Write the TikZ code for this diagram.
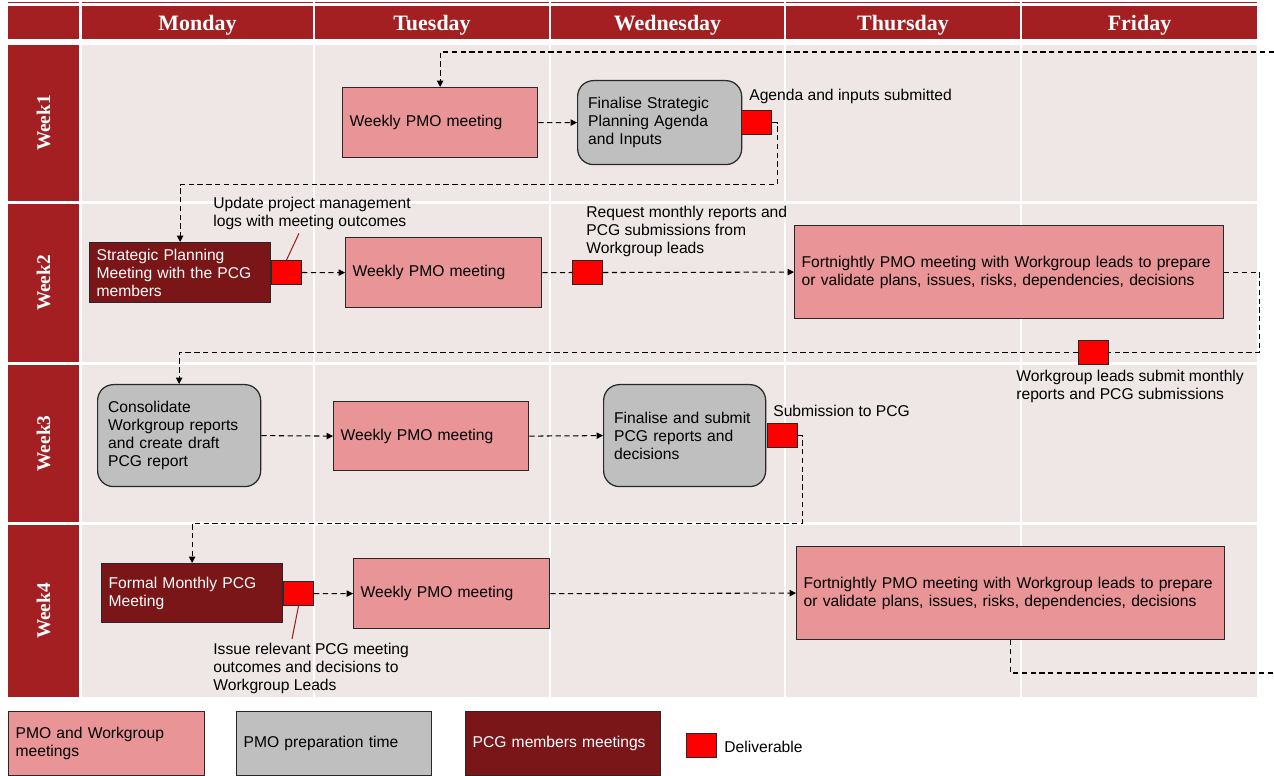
\documentclass[tikz,border=0pt]{standalone}
\usepackage{fontspec}
\setmainfont{Liberation Sans}
\newfontfamily\serifhead{Liberation Serif}
\usepackage{tikz}
\usetikzlibrary{arrows.meta}
\definecolor{hdred}{RGB}{163,31,34}
\definecolor{pcgred}{RGB}{122,22,24}
\definecolor{pmopink}{RGB}{233,148,150}
\definecolor{prepgray}{RGB}{191,191,191}
\definecolor{cellbg}{RGB}{238,231,230}
\definecolor{edgegray}{RGB}{40,40,40}
\tikzset{
  box/.style={draw=edgegray, line width=0.7pt, anchor=north west, align=left, inner xsep=4pt, inner ysep=2pt},
  pmo/.style={box, fill=pmopink},
  prep/.style={box, fill=prepgray, rounded corners=9pt, inner xsep=6pt},
  pcg/.style={box, fill=pcgred, text=white},
  deliv/.style={draw=edgegray, line width=0.6pt, fill=red, anchor=north west, inner sep=0pt, minimum width=0.6cm, minimum height=0.48cm},
  note/.style={anchor=north west, align=left, inner sep=0pt},
  flow/.style={draw=black, line width=0.6pt, dash pattern=on 3pt off 2pt, -{Triangle[length=3.6pt,width=3.6pt]}},
  link/.style={flow, -},
  callout/.style={draw=hdred, line width=0.6pt},
  dayhead/.style={text=white, font=\serifhead\bfseries\fontsize{12.5}{14}\selectfont},
  weeklab/.style={text=white, rotate=90, font=\serifhead\bfseries\fontsize{11}{13}\selectfont},
}

\begin{document}
\begin{tikzpicture}[x=0.02cm, y=-0.02cm, font=\fontsize{8.9}{10.3}\selectfont]
    \useasboundingbox (0,0) rectangle (1274,776);
    \fill[white] (0,0) rectangle (1274,776);

    % grid
    \foreach \xa/\xb in {82/313,315/549,551/784,786/1020,1022/1257}{
      \foreach \ya/\yb in {45/201,204/362,365/522,525/697}
        \fill[cellbg] (\xa,\ya) rectangle (\xb,\yb);
    }
    \fill[hdred] (8,2.5) rectangle (79,3.5);
    \fill[hdred] (8,6) rectangle (79,39);
    \foreach \xa/\xb/\day in {82/313/Monday,315/549/Tuesday,551/784/Wednesday,786/1020/Thursday,1022/1257/Friday}{
      \fill[hdred] (\xa,2.5) rectangle (\xb,3.5);
      \fill[hdred] (\xa,6) rectangle (\xb,39);
      \node[dayhead] (hd\day) at ({(\xa+\xb)/2},25) {\day};
    }
    \foreach \ya/\yb/\wk in {45/201/1,204/362/2,365/522/3,525/697/4}{
      \fill[hdred] (8,\ya) rectangle (79,\yb);
      \node[weeklab] (wk\wk) at (43.5,{(\ya+\yb)/2}) {Week\wk};
    }

    % week 1
    \node[pmo, text width=3.62cm, minimum height=1.4cm] (w1pmo) at (342,87) {Weekly PMO meeting};
    \node[prep, text width=2.86cm, minimum height=1.68cm] (w1fin) at (577,80) {Finalise Strategic\\Planning Agenda\\and Inputs};
    \node[deliv] (d1) at (741,110) {};
    \node[note, anchor=west] (n1) at (749,96) {Agenda and inputs submitted};

    % week 2
    \node[pcg, text width=3.34cm, minimum height=1.2cm] (w2spm) at (89,242) {Strategic Planning\\Meeting with the PCG\\members};
    \node[deliv] (d2) at (271,260) {};
    \node[note] (n2) at (213,197) {Update project management\\logs with meeting outcomes};
    \node[pmo, text width=3.64cm, minimum height=1.4cm] (w2pmo) at (345,237) {Weekly PMO meeting};
    \node[deliv] (d3) at (572,260) {};
    \node[note] (n3) at (586,206) {Request monthly reports and\\PCG submissions from\\Workgroup leads};
    \node[pmo, text width=8.3cm, minimum height=1.86cm] (w2fort) at (794,225) {Fortnightly PMO meeting with Workgroup leads to prepare\\or validate plans, issues, risks, dependencies, decisions};
    \node[deliv] (d4) at (1078,340) {};
    \node[note] (n4) at (1016,370) {Workgroup leads submit monthly\\reports and PCG submissions};

    % week 3
    \node[prep, text width=2.84cm, minimum height=2.04cm] (w3con) at (97,384) {Consolidate\\Workgroup reports\\and create draft\\PCG report};
    \node[pmo, text width=3.62cm, minimum height=1.38cm] (w3pmo) at (333,401) {Weekly PMO meeting};
    \node[prep, text width=2.82cm, minimum height=2.04cm] (w3fin) at (603,384) {Finalise and submit\\PCG reports and\\decisions};
    \node[deliv] (d5) at (767,423) {};
    \node[note, anchor=west] (n5) at (773,411) {Submission to PCG};

    % week 4
    \node[pcg, text width=3.34cm, minimum height=1.18cm] (w4fpm) at (101,563) {Formal Monthly PCG\\Meeting};
    \node[deliv] (d6) at (283,581) {};
    \node[note] (n6) at (213,643) {Issue relevant PCG meeting\\outcomes and decisions to\\Workgroup Leads};
    \node[pmo, text width=3.64cm, minimum height=1.4cm] (w4pmo) at (353,558) {Weekly PMO meeting};
    \node[pmo, text width=8.28cm, minimum height=1.86cm] (w4fort) at (796,546) {Fortnightly PMO meeting with Workgroup leads to prepare\\or validate plans, issues, risks, dependencies, decisions};

    % legend
    \node[pmo, text width=3.64cm, minimum height=1.28cm] (lg1) at (8,711) {PMO and Workgroup\\meetings};
    \node[box, fill=prepgray, text width=3.62cm, minimum height=1.28cm] (lg2) at (236,711) {PMO preparation time};
    \node[pcg, text width=3.62cm, minimum height=1.28cm] (lg3) at (465,711) {PCG members meetings};
    \node[deliv] (lg4) at (686,733) {};
    \node[note, anchor=west] (lg4t) at (724,747) {Deliverable};

    % flow
    \coordinate (in1) at (1274,52);
    \coordinate (out4) at (1274,673);
    \draw[flow] (in1) -| (w1pmo.north);
    \draw[flow] (w1pmo.east) -- (w1fin.west);
    \draw[flow] (d1.east) -- ++(5,0) -- ++(0,62) -| (w2spm.north);
    \draw[flow] (d2.east) -- (w2pmo.west);
    \draw[link] (w2pmo.east) -- (d3.west);
    \draw[flow] (d3.east) -- (w2fort.west);
    \draw[link] (w2fort.east) -- ++(35,0) |- (d4.east);
    \draw[flow] (d4.west) -| (w3con.north);
    \draw[flow] (w3con.east) -- (w3pmo.west);
    \draw[flow] (w3pmo.east) -- (w3fin.west);
    \draw[flow] (d5.east) -- ++(4,0) -- ++(0,88) -| (w4fpm.north);
    \draw[flow] (d6.east) -- (w4pmo.west);
    \draw[flow] (w4pmo.east) -- (w4fort.west);
    \draw[link] (w4fort.south) |- (out4);

    % callouts
    \draw[callout] (d2.north) -- ([xshift=1.72cm, yshift=-0.06cm]n2.south west);
    \draw[callout] (d6.south) -- ([xshift=1.58cm, yshift=0.08cm]n6.north west);
\end{tikzpicture}
\end{document}
